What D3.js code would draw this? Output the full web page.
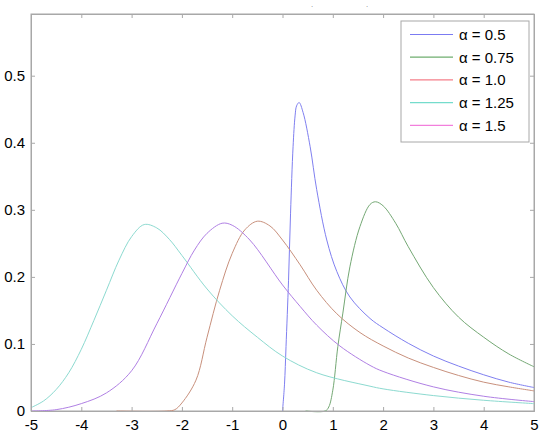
<!DOCTYPE html>
<html><head><meta charset="utf-8">
<script src="https://cdn.jsdelivr.net/npm/d3@7"></script>
<style>body{margin:0;background:#fff}svg{display:block}text{font-family:Arial,"Liberation Sans",sans-serif}</style>
</head><body><svg id="c" width="550" height="438"></svg>
<script>
const legendLabels = ["\u03b1 = 0.5","\u03b1 = 0.75","\u03b1 = 1.0","\u03b1 = 1.25","\u03b1 = 1.5"];
const xTicks = [-5,-4,-3,-2,-1,0,1,2,3,4,5];
const yTicks = [0,0.1,0.2,0.3,0.4,0.5];
// series (x, y) points
const s05x = [0,0.04,0.07,0.12,0.16,0.21,0.25,0.28,0.33,0.41,0.55,0.68,0.88,1.08,1.34,1.74,2,2.5,3,3.5,4,4.5,5];
const s05y = [0,0.04,0.096,0.195,0.295,0.394,0.44,0.455,0.46,0.445,0.394,0.33,0.255,0.208,0.17,0.138,0.124,0.101,0.082,0.067,0.054,0.043,0.035];
const s075x = [0.46,0.85,0.92,1.0,1.1,1.2,1.34,1.54,1.74,1.85,2.0,2.25,2.5,3,3.5,4,4.5,5];
const s075y = [0,0,0.006,0.031,0.096,0.146,0.215,0.275,0.308,0.312,0.306,0.28,0.245,0.184,0.14,0.11,0.085,0.066];
const s10x = [-3.3,-2.3,-2.14,-2.0,-1.72,-1.5,-1.25,-1.0,-0.75,-0.5,-0.25,0,0.35,0.68,1.08,1.54,2,2.5,3,3.5,4,4.5,5];
const s10y = [0,0,0.002,0.012,0.046,0.11,0.18,0.235,0.27,0.283,0.276,0.255,0.218,0.18,0.145,0.117,0.097,0.079,0.065,0.053,0.043,0.036,0.03];
const s125x = [-5,-4.75,-4.5,-4.25,-4,-3.75,-3.5,-3.25,-3,-2.75,-2.5,-2.25,-2,-1.5,-1,-0.5,0,0.68,1.74,2,3,4,5];
const s125y = [0.005,0.015,0.032,0.057,0.092,0.135,0.18,0.225,0.26,0.278,0.273,0.256,0.232,0.182,0.142,0.11,0.082,0.057,0.037,0.033,0.023,0.016,0.011];
const s15x = [-5,-4.5,-4,-3.5,-3,-2.5,-2,-1.75,-1.5,-1.2,-1,-0.65,0,0.35,0.68,1.14,1.74,2,3,4,5];
const s15y = [0,0.002,0.011,0.027,0.06,0.13,0.205,0.24,0.265,0.28,0.277,0.255,0.188,0.156,0.128,0.097,0.068,0.059,0.036,0.022,0.014];
const legendColors = ["#7b7bf2","#6fae6f","#f57f8a","#74dccc","#f27fdc"];
const curveColors = ["#7f7ff0","#74a874","#c8907c","#8cdad0","#b080e4"];

const L=31, R=534, T=14, B=411;
const svg=d3.select("#c");
const x=d3.scaleLinear().domain([-5,5]).range([L,R]);
const y=d3.scaleLinear().domain([0,0.592]).range([B,T]);
const axisCol="#a8a8a8";
const hy=s=>String(s).replace("\u2212","-");

svg.append("rect").attr("x",L).attr("y",T).attr("width",R-L).attr("height",B-T)
  .attr("fill","#fff").attr("stroke",axisCol).attr("stroke-width",1);

const series=[[s05x,s05y],[s075x,s075y],[s10x,s10y],[s125x,s125y],[s15x,s15y]];
const line=d3.line().x(d=>x(d[0])).y(d=>y(d[1])).curve(d3.curveCatmullRom.alpha(0.5));
series.forEach((s,i)=>{
  const pts=s[0].map((v,j)=>[v,s[1][j]]);
  svg.append("path").attr("d",line(pts)).attr("fill","none")
    .attr("stroke",curveColors[i]).attr("stroke-width",1);
});

// axes
const gx=svg.append("g").attr("transform",`translate(0,${B})`)
  .call(d3.axisBottom(x).tickValues(xTicks).tickSize(-4).tickPadding(8).tickFormat(d=>hy(d)));
const gxt=svg.append("g").attr("transform",`translate(0,${T})`)
  .call(d3.axisTop(x).tickValues(xTicks).tickSize(-4).tickFormat(""));
const gy=svg.append("g").attr("transform",`translate(${L},0)`)
  .call(d3.axisLeft(y).tickValues(yTicks).tickSize(-4).tickPadding(6).tickFormat(d=>d===0?"0":d3.format(".1f")(d)));
const gyr=svg.append("g").attr("transform",`translate(${R},0)`)
  .call(d3.axisRight(y).tickValues(yTicks).tickSize(-4).tickFormat(""));
[gx,gxt,gy,gyr].forEach(g=>{
  g.select(".domain").attr("stroke",axisCol);
  g.selectAll(".tick line").attr("stroke",axisCol);
  g.selectAll("text").attr("fill","#000").attr("font-size",15);
});

// legend
const lg=svg.append("g");
lg.append("rect").attr("x",401).attr("y",21).attr("width",128).attr("height",121)
  .attr("fill","#fff").attr("stroke",axisCol);
legendLabels.forEach((lab,i)=>{
  const yy=34.5+i*22.7;
  lg.append("line").attr("x1",410).attr("x2",453).attr("y1",yy).attr("y2",yy)
    .attr("stroke",legendColors[i]).attr("stroke-width",1.2);
  lg.append("text").attr("x",459).attr("y",yy+5.5).attr("font-size",15).attr("fill","#000").text(lab);
});

// remnants of title
svg.append("text").attr("x",312).attr("y",7).attr("font-size",6).attr("text-anchor","middle").text(".");
svg.append("text").attr("x",367).attr("y",7).attr("font-size",6).attr("text-anchor","middle").text(".");
</script></body></html>
